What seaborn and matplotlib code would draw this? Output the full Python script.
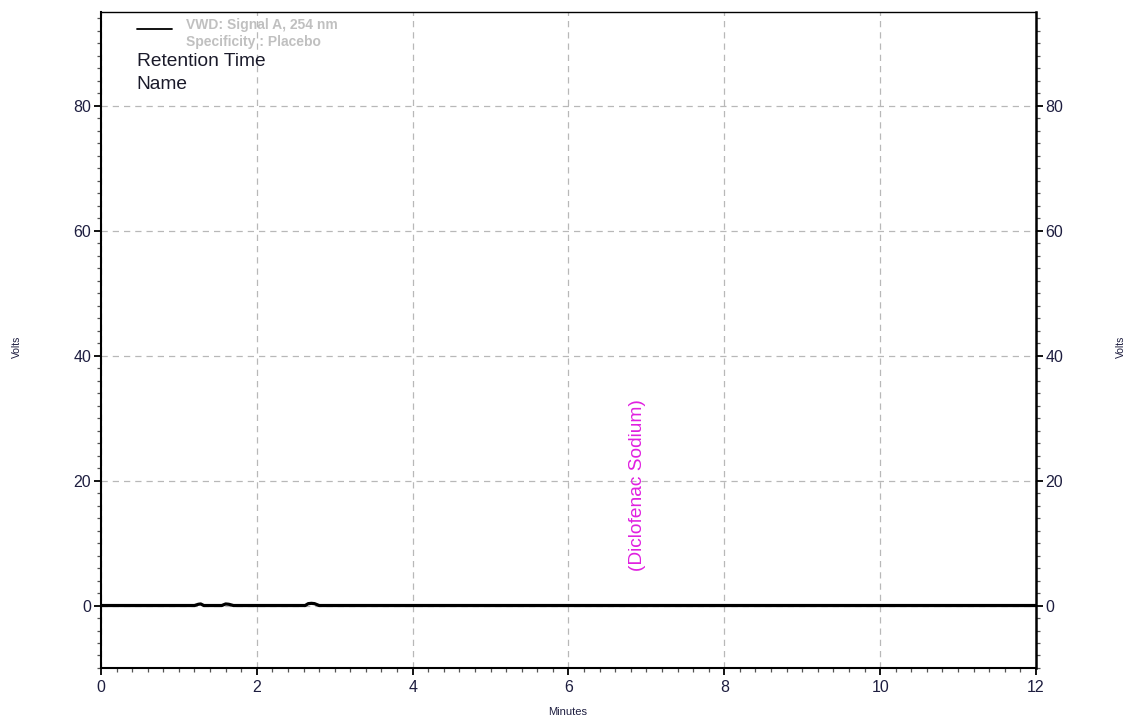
import numpy as np
import pandas as pd
import matplotlib
matplotlib.use("Agg")
import matplotlib.pyplot as plt
from matplotlib.ticker import MultipleLocator
import seaborn as sns

# Chromatogram trace (VWD signal A, 254 nm), placebo injection
time_min = [0.0, 1.20, 1.25, 1.28, 1.32, 1.55, 1.60, 1.64, 1.70,
            2.62, 2.66, 2.70, 2.74, 2.80, 5.0, 8.0, 12.0]
signal_v = [0.0, 0.0, 0.2, 0.25, 0.0, 0.0, 0.25, 0.2, 0.0,
            0.0, 0.3, 0.35, 0.3, 0.0, 0.0, 0.0, 0.0]

peak_label = "(Diclofenac Sodium)"
peak_label_pos = (6.88, 19.2)

legend_lines = ["VWD: Signal A, 254 nm", "Specificity : Placebo"]
annotation_lines = ["Retention Time", "Name"]

x_limits = (0, 12)
y_limits = (-10, 95)

sns.set_theme(style="white")
plt.rcParams["font.family"] = ["Liberation Sans", "DejaVu Sans"]

df = pd.DataFrame({"Minutes": time_min, "Volts": signal_v})

fig = plt.figure(figsize=(11.31, 7.22), dpi=100)
ax = fig.add_axes([0.0893, 0.0748, 0.8267, 0.9086])

sns.lineplot(data=df, x="Minutes", y="Volts", ax=ax, color="black",
             linewidth=2.3, estimator=None, sort=True)

ax.set_xlim(*x_limits)
ax.set_ylim(*y_limits)

ax.xaxis.set_major_locator(MultipleLocator(2))
ax.xaxis.set_minor_locator(MultipleLocator(0.2))
ax.yaxis.set_major_locator(MultipleLocator(20))
ax.yaxis.set_minor_locator(MultipleLocator(2))

ax.grid(True, which="major", linestyle=(0, (5, 4)), color="#b8b8b8", linewidth=0.9)

for side in ["left", "right", "top", "bottom"]:
    ax.spines[side].set_visible(True)
    ax.spines[side].set_color("black")
    ax.spines[side].set_linewidth(1.5)
ax.spines["top"].set_linewidth(1.0)
ax.spines["right"].set_linewidth(1.8)

ax.tick_params(axis="both", which="major", direction="out", length=5,
               width=1.3, color="black", labelsize=11.5, labelcolor="#1e1e40",
               pad=2)
ax.tick_params(axis="x", which="major", pad=4)
ax.tick_params(axis="both", which="minor", direction="out", length=3,
               width=0.9, color="#555555")
ax.tick_params(axis="y", which="both", left=True, right=True,
               labelleft=True, labelright=True)
ax.tick_params(axis="x", which="both", bottom=True, top=False)

ax.set_xlabel("")
ax.set_ylabel("")
fig.text(0.502, 0.014, "Minutes", fontsize=8, color="#1e1e40",
         ha="center", va="center")
fig.text(0.015, 0.52, "Volts", rotation=90, fontsize=7.5, color="#1e1e40",
         ha="center", va="center")
fig.text(0.991, 0.52, "Volts", rotation=90, fontsize=7.5, color="#1e1e40",
         ha="center", va="center")

# Legend entry drawn inside the plot area
ax.plot([0.46, 0.91], [92.2, 92.2], color="black", linewidth=1.3)
ax.text(1.09, 92.9, legend_lines[0], fontsize=10, color="#c0c0c0",
        fontweight="bold", va="center")
ax.text(1.09, 90.2, legend_lines[1], fontsize=10, color="#c0c0c0",
        fontweight="bold", va="center")
ax.text(0.46, 87.0, annotation_lines[0], fontsize=13.8, color="#1a1a2a",
        va="center")
ax.text(0.46, 83.4, annotation_lines[1], fontsize=13.8, color="#1a1a2a",
        va="center")

ax.text(peak_label_pos[0], peak_label_pos[1], peak_label, rotation=90,
        fontsize=13.8, color="#e020e0", ha="center", va="center")

fig.savefig("out.png", dpi=100)
